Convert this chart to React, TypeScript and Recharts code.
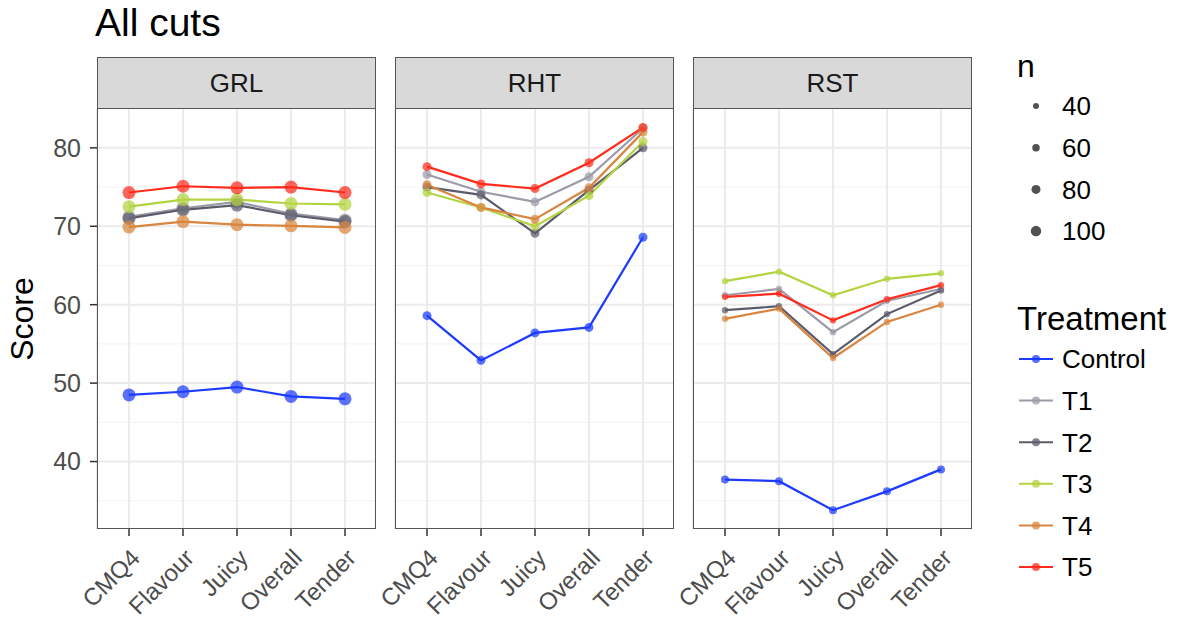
import React from "react";
import { LineChart, Line, XAxis, YAxis, CartesianGrid } from "recharts";

const categories = ["CMQ4", "Flavour", "Juicy", "Overall", "Tender"];
const treatments = ["Control", "T1", "T2", "T3", "T4", "T5"];
const treatmentColors = ["#1c3bff", "#9b9ba8", "#5b5b6b", "#b3d341", "#d8853f", "#ff2b1c"];
const cuts = ["GRL", "RHT", "RST"];

// scores per treatment (rows follow `treatments`), columns follow `categories`
const grlScores = [
  [48.5, 48.9, 49.5, 48.3, 48.0],
  [71.2, 72.3, 73.1, 71.6, 70.8],
  [71.0, 72.1, 72.7, 71.4, 70.6],
  [72.5, 73.4, 73.4, 72.9, 72.8],
  [69.9, 70.6, 70.2, 70.05, 69.85],
  [74.3, 75.1, 74.9, 75.0, 74.3],
];
const rhtScores = [
  [58.6, 52.9, 56.4, 57.1, 68.6],
  [76.6, 74.4, 73.1, 76.3, 82.5],
  [75.0, 74.0, 69.1, 74.6, 80.0],
  [74.3, 72.4, 70.0, 73.9, 80.8],
  [75.3, 72.4, 70.9, 74.9, 82.0],
  [77.6, 75.4, 74.8, 78.1, 82.6],
];
const rstScores = [
  [37.7, 37.5, 33.8, 36.2, 39.0],
  [61.2, 62.0, 56.5, 60.5, 62.0],
  [59.3, 59.8, 53.7, 58.8, 61.8],
  [63.0, 64.2, 61.2, 63.3, 64.0],
  [58.2, 59.5, 53.2, 57.8, 60.0],
  [61.0, 61.4, 58.0, 60.7, 62.5],
];
const nLegendValues = [40, 60, 80, 100];

const yTicks = [40, 50, 60, 70, 80];
const yMinor = [35, 45, 55, 65, 75];
const yDomain: [number, number] = [31.4, 84.95];

const FONT = "'Liberation Sans', Arial, Helvetica, sans-serif";

const buildRows = (scores: number[][]) =>
  categories.map((c, ci) => {
    const row: Record<string, string | number> = { attr: c };
    treatments.forEach((t, ti) => {
      row[t] = scores[ti][ci];
    });
    return row;
  });

const RotTick = (props: any) => {
  const { x, y, payload } = props;
  const ax = x;
  const ay = y + 9;
  return (
    <text
      x={ax}
      y={ay}
      transform={`rotate(-45 ${ax} ${ay})`}
      textAnchor="end"
      dominantBaseline="hanging"
      fontSize={24}
      fill="#4d4d4d"
      fontFamily={FONT}
    >
      {payload.value}
    </text>
  );
};

const PANEL_W = 279;
const PLOT_H = 420;
const XAXIS_H = 120;
const LEFT_W = 97;
const panelLefts = [97, 395, 693];
const PLOT_TOP = 109;

function Panel({ scores, radius, controlRadius, showY }: { scores: number[][]; radius: number; controlRadius: number; showY: boolean }) {
  const rows = buildRows(scores);
  return (
    <LineChart
      width={PANEL_W + LEFT_W}
      height={PLOT_H + XAXIS_H}
      data={rows}
      margin={{ top: 0, right: 0, bottom: 0, left: showY ? 0 : LEFT_W }}
    >
      <CartesianGrid horizontalValues={yMinor} vertical={false} stroke="#f2f2f2" strokeWidth={1} />
      <CartesianGrid horizontalValues={yTicks} stroke="#ebebeb" strokeWidth={2} />
      <XAxis
        dataKey="attr"
        interval={0}
        padding={{ left: 32, right: 31 }}
        height={XAXIS_H}
        tick={<RotTick />}
        tickSize={7}
        tickLine={{ stroke: "#333333", strokeWidth: 1.5 }}
        axisLine={false}
      />
      <YAxis
        hide={!showY}
        width={LEFT_W}
        type="number"
        domain={yDomain}
        allowDataOverflow
        ticks={yTicks}
        tickSize={7}
        tickMargin={9}
        tickLine={{ stroke: "#333333", strokeWidth: 1.5 }}
        axisLine={false}
        tick={{ fontSize: 25, fill: "#4d4d4d", fontFamily: FONT }}
      />
      {treatments.map((t, i) => (
        <Line
          key={"l" + t}
          dataKey={t}
          stroke={treatmentColors[i]}
          strokeWidth={2.2}
          dot={false}
          isAnimationActive={false}
        />
      ))}
      {treatments.map((t, i) => (
        <Line
          key={"p" + t}
          dataKey={t}
          stroke="none"
          strokeWidth={0}
          dot={{ r: i === 0 ? controlRadius : radius, fill: treatmentColors[i], fillOpacity: 0.72, stroke: "none" }}
          isAnimationActive={false}
        />
      ))}
    </LineChart>
  );
}

export default function App() {
  const panelScores = [grlScores, rhtScores, rstScores];
  const radii = [6.5, 4.5, 3.2];
  const controlRadii = [6.5, 4.5, 4.0];
  return (
    <div style={{ position: "fixed", left: 0, top: 0, width: 1178, height: 624, background: "#fff", fontFamily: FONT, overflow: "hidden" }}>
      <div style={{ position: "absolute", left: 95, top: 0, fontSize: 39, color: "#000", lineHeight: "46px" }}>All cuts</div>
      <div
        style={{
          position: "absolute",
          left: 22,
          top: (PLOT_TOP + PLOT_TOP + PLOT_H) / 2,
          transform: "translate(-50%, -50%) rotate(-90deg)",
          fontSize: 32,
          color: "#000",
          whiteSpace: "nowrap",
        }}
      >
        Score
      </div>
      {cuts.map((cut, i) => (
        <div
          key={"c" + cut}
          style={{
            position: "absolute",
            left: panelLefts[i] - LEFT_W,
            top: PLOT_TOP,
          }}
        >
          <Panel scores={panelScores[i]} radius={radii[i]} controlRadius={controlRadii[i]} showY={i === 0} />
        </div>
      ))}
      {cuts.map((cut, i) => (
        <React.Fragment key={cut}>
          <div
            style={{
              position: "absolute",
              left: panelLefts[i],
              top: 57,
              width: PANEL_W,
              height: 52,
              boxSizing: "border-box",
              background: "#d9d9d9",
              border: "1.5px solid #555",
              fontSize: 26,
              color: "#1a1a1a",
              textAlign: "center",
              lineHeight: "50px",
            }}
          >
            {cut}
          </div>
          <div
            style={{
              position: "absolute",
              left: panelLefts[i],
              top: PLOT_TOP - 1,
              width: PANEL_W,
              height: PLOT_H + 1,
              boxSizing: "border-box",
              border: "1.5px solid #555",
              pointerEvents: "none",
            }}
          />
        </React.Fragment>
      ))}
      <svg style={{ position: "absolute", left: 0, top: 0 }} width={1178} height={624}>
        <text x={1017} y={77} fontSize={32} fill="#000" fontFamily={FONT}>n</text>
        {nLegendValues.map((v, i) => (
          <g key={v}>
            <circle cx={1036} cy={106 + i * 41.7} r={3 + i * 0.75} fill="#333" fillOpacity={0.85} />
            <text x={1062} y={106 + i * 41.7} dy="0.36em" fontSize={26} fill="#000" fontFamily={FONT}>{v}</text>
          </g>
        ))}
        <text x={1017} y={330} fontSize={33} fill="#000" fontFamily={FONT}>Treatment</text>
        {treatments.map((t, i) => (
          <g key={t}>
            <line x1={1019} x2={1053} y1={359 + i * 41.6} y2={359 + i * 41.6} stroke={treatmentColors[i]} strokeWidth={2} />
            <circle cx={1036} cy={359 + i * 41.6} r={4} fill={treatmentColors[i]} fillOpacity={0.75} />
            <text x={1062} y={359 + i * 41.6} dy="0.36em" fontSize={26} fill="#000" fontFamily={FONT}>{t}</text>
          </g>
        ))}
      </svg>
    </div>
  );
}
